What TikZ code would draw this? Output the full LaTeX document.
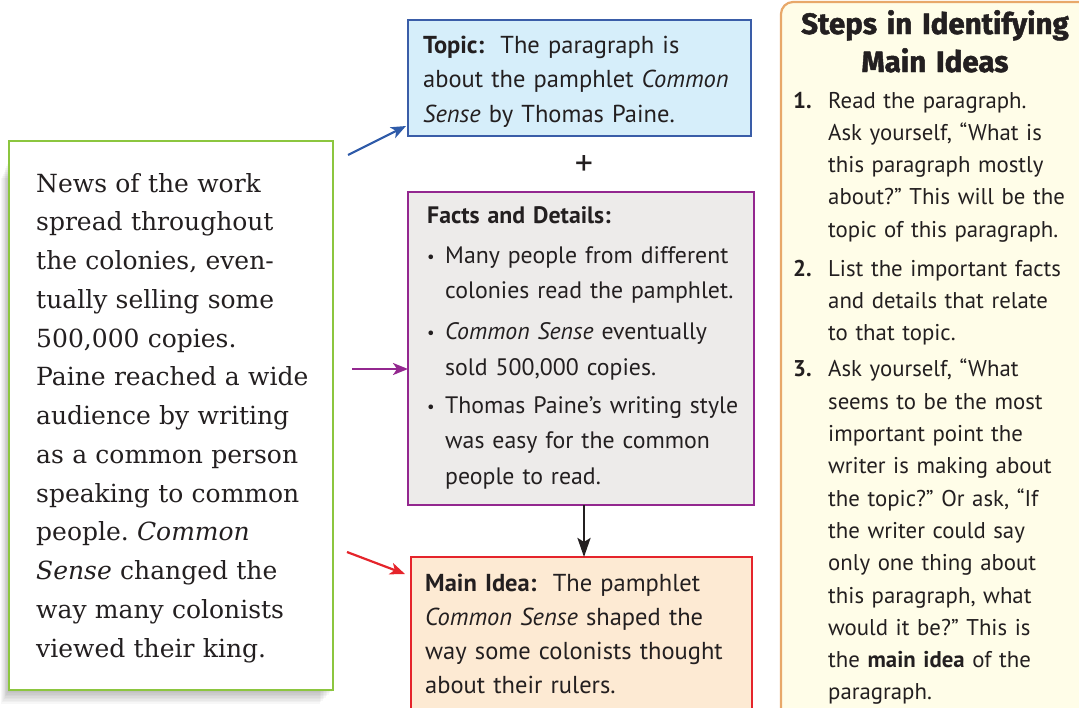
\documentclass[tikz,border=0pt]{standalone}
\usepackage{fontspec}
\setmainfont{PT Sans}
\newfontfamily\serifA{DejaVu Serif}
\newfontfamily\headA{Fira Sans}[BoldFeatures={FakeBold=1.6}]
\usetikzlibrary{arrows.meta,calc}
\frenchspacing
\definecolor{txt}{HTML}{231F20}
\definecolor{greenB}{HTML}{8CC63F}
\definecolor{topicB}{HTML}{3A5DA8}
\definecolor{topicF}{HTML}{D6EEFA}
\definecolor{factsB}{HTML}{93278F}
\definecolor{factsF}{HTML}{EDEBEA}
\definecolor{mainB}{HTML}{E5242B}
\definecolor{mainF}{HTML}{FDEAD3}
\definecolor{stepsB}{HTML}{E8A86A}
\definecolor{stepsF}{HTML}{FFFDE8}
\definecolor{arrBlue}{HTML}{2F5BA9}
\newcommand\bul{\makebox[18pt][l]{\raisebox{1pt}{\scalebox{0.7}{\textbullet}}}}
\newcommand\ind{\hspace*{18pt}}
\newcommand\stepno[1]{\makebox[35pt][l]{\textbf{#1}}}
\newcommand\sind{\hspace*{35pt}}
\tikzset{
  box/.style={anchor=north west, inner sep=0pt, outer sep=0pt, line width=2pt},
  btext/.style={anchor=base west, inner sep=0pt, text width=360pt, align=left, text=txt},
  arr/.style={line width=2.2pt, -{Stealth[length=15pt,width=12pt,inset=4pt]}},
}
\begin{document}
\begin{tikzpicture}[x=1pt,y=-1pt]
\useasboundingbox (0,0) rectangle (1079,707);
\clip (0,0) rectangle (1079,707);
% shadow of left box
\foreach \i in {1,...,9}
  \fill[black,opacity=0.03] (9-\i*0.9,160+\i*2) rectangle (333-\i*1.5,690+\i*1.5);
\node[box, draw=greenB, fill=white, line width=1.6pt, minimum width=324pt, minimum height=549pt] (news) at (9,141) {};
\node[btext, text width=300pt, font=\serifA\fontsize{25}{38.75}\selectfont] (newstext) at (36,192) {News of the work\\
spread throughout\\
the colonies, even-\\
tually selling some\\
500,000 copies.\\
Paine reached a wide\\
audience by writing\\
as a common person\\
speaking to common\\
people. \textit{Common}\\
\textit{Sense} changed the\\
way many colonists\\
viewed their king.};
% topic
\node[box, draw=topicB, fill=topicF, minimum width=343pt, minimum height=116pt] (topic) at (408,20) {};
\node[btext, font=\fontsize{24.5}{34.5}\selectfont] (topictext) at (423,53) {\textbf{Topic:}\ \ The paragraph is\\
about the pamphlet \textit{Common}\\
\textit{Sense} by Thomas Paine.};
\node[text=txt, inner sep=0pt, font=\fontsize{36}{36}\selectfont] (plus) at (584,166) {+};
% facts
\node[box, draw=factsB, fill=factsF, minimum width=346pt, minimum height=313pt] (facts) at (408,192) {};
\node[btext, font=\fontsize{23.8}{35.5}\selectfont] (factstext) at (427,223) {\textbf{Facts and Details:}\\[4.5pt]
\bul Many people from different\\
\ind colonies read the pamphlet.\\[5.5pt]
\bul\textit{Common Sense} eventually\\
\ind sold 500,000 copies.\\[2.5pt]
\bul Thomas Paine’s writing style\\
\ind was easy for the common\\
\ind people to read.};
% main idea
\node[box, draw=mainB, fill=mainF, minimum width=341pt, minimum height=170pt] (main) at (411,557) {};
\node[btext, font=\fontsize{24.5}{34}\selectfont] (maintext) at (425,591) {\textbf{Main Idea:}\ \ The pamphlet\\
\textit{Common Sense} shaped the\\
way some colonists thought\\
about their rulers.};
% steps
\node[box, draw=stepsB, fill=stepsF, line width=2.2pt, rounded corners=12pt, minimum width=330pt, minimum height=730pt] (steps) at (781,2) {};
\node[anchor=base, inner sep=0pt, text width=320pt, align=center, text=txt, font=\headA\bfseries\fontsize{29.5}{38}\selectfont] (stepshead) at (935,34) {Steps in Identifying\\Main Ideas};
\node[btext, text width=300pt, font=\fontsize{22.8}{32.3}\selectfont] (stepstext) at (793,108) {\stepno{1.}Read the paragraph.\\
\sind Ask yourself, “What is\\
\sind this paragraph mostly\\
\sind about?” This will be the\\
\sind topic of this paragraph.\\[6.5pt]
\stepno{2.}List the important facts\\
\sind and details that relate\\
\sind to that topic.\\[4pt]
\stepno{3.}Ask yourself, “What\\
\sind seems to be the most\\
\sind important point the\\
\sind writer is making about\\
\sind the topic?” Or ask, “If\\
\sind the writer could say\\
\sind only one thing about\\
\sind this paragraph, what\\
\sind would it be?” This is\\
\sind the \textbf{main idea} of the\\
\sind paragraph.};
% arrows
\coordinate (bt) at (348,155);
\coordinate (pt) at (352,369);
\coordinate (rt) at (347,552);
\draw[arr, draw=arrBlue, fill=arrBlue] (bt) -- ([xshift=-2pt,yshift=10pt]topic.south west);
\draw[arr, draw=factsB, fill=factsB] (pt) -- (pt -| facts.west);
\draw[arr, draw=mainB, fill=mainB] (rt) -- ([xshift=-6pt,yshift=-17pt]main.north west);
\draw[arr, draw=txt, line width=2.8pt, -{Stealth[length=19pt,width=13pt,inset=4pt]}] ([xshift=3pt]facts.south) -- ([xshift=3pt]facts.south |- main.north);
\end{tikzpicture}
\end{document}
